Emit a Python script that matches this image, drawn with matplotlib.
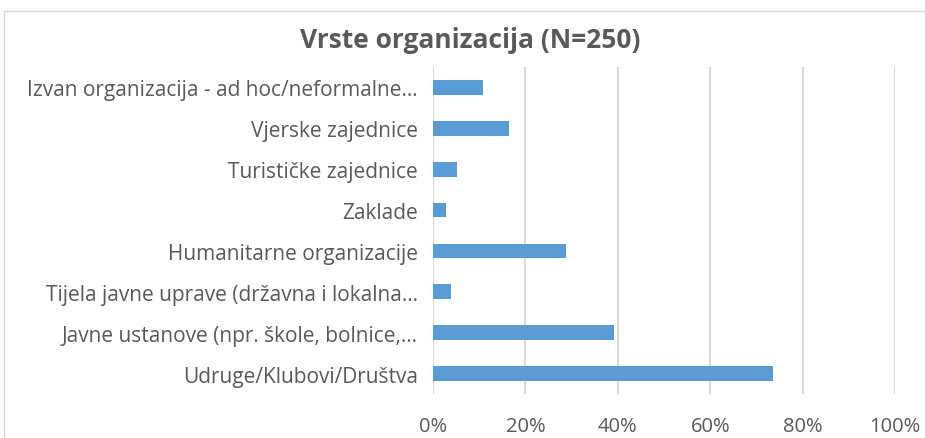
import matplotlib
matplotlib.use("Agg")
import matplotlib.pyplot as plt
from matplotlib.patches import Rectangle
from matplotlib.ticker import PercentFormatter, MultipleLocator

categories = [
    "Udruge/Klubovi/Društva",
    "Javne ustanove (npr. škole, bolnice,…",
    "Tijela javne uprave (državna i lokalna…",
    "Humanitarne organizacije",
    "Zaklade",
    "Turističke zajednice",
    "Vjerske zajednice",
    "Izvan organizacija - ad hoc/neformalne…",
]
values = [73.6, 39.2, 4.0, 28.8, 2.8, 5.2, 16.4, 10.8]
title = "Vrste organizacija (N=250)"

plt.rcParams['font.family'] = ['Open Sans', 'DejaVu Sans']
text_color = "#595959"

fig = plt.figure(figsize=(9.25, 4.39), dpi=100)
W, H = 925, 439
ax = fig.add_axes([433 / W, 1 - 395 / H, (895 - 433) / W, (395 - 68) / H])

y = list(range(len(categories)))
ax.barh(y, values, height=0.36, color="#5b9bd5", zorder=3)
ax.set_yticks(y)
ax.set_yticklabels(categories, fontsize=15, color=text_color)
ax.set_ylim(-0.5, len(categories) - 0.5)
ax.set_xlim(0, 100)
ax.xaxis.set_major_locator(MultipleLocator(20))
ax.xaxis.set_major_formatter(PercentFormatter(decimals=0))
ax.tick_params(axis='x', labelsize=14.5, labelcolor=text_color, length=0, pad=15.5)
ax.tick_params(axis='y', length=0, pad=11)
ax.grid(axis='x', color="#d9d9d9", linewidth=1.5, zorder=0)
for s in ax.spines.values():
    s.set_visible(False)

fig.text(470 / W, 1 - 40 / H, title, ha='center', va='center',
         fontsize=19, fontweight='bold', color=text_color)

fig.patches.append(Rectangle((4 / W, -0.1), 1.1, 1 - 12 / H + 0.1,
                             transform=fig.transFigure, fill=False,
                             edgecolor="#d9d9d9", linewidth=1))

fig.savefig("out.png", dpi=100)
